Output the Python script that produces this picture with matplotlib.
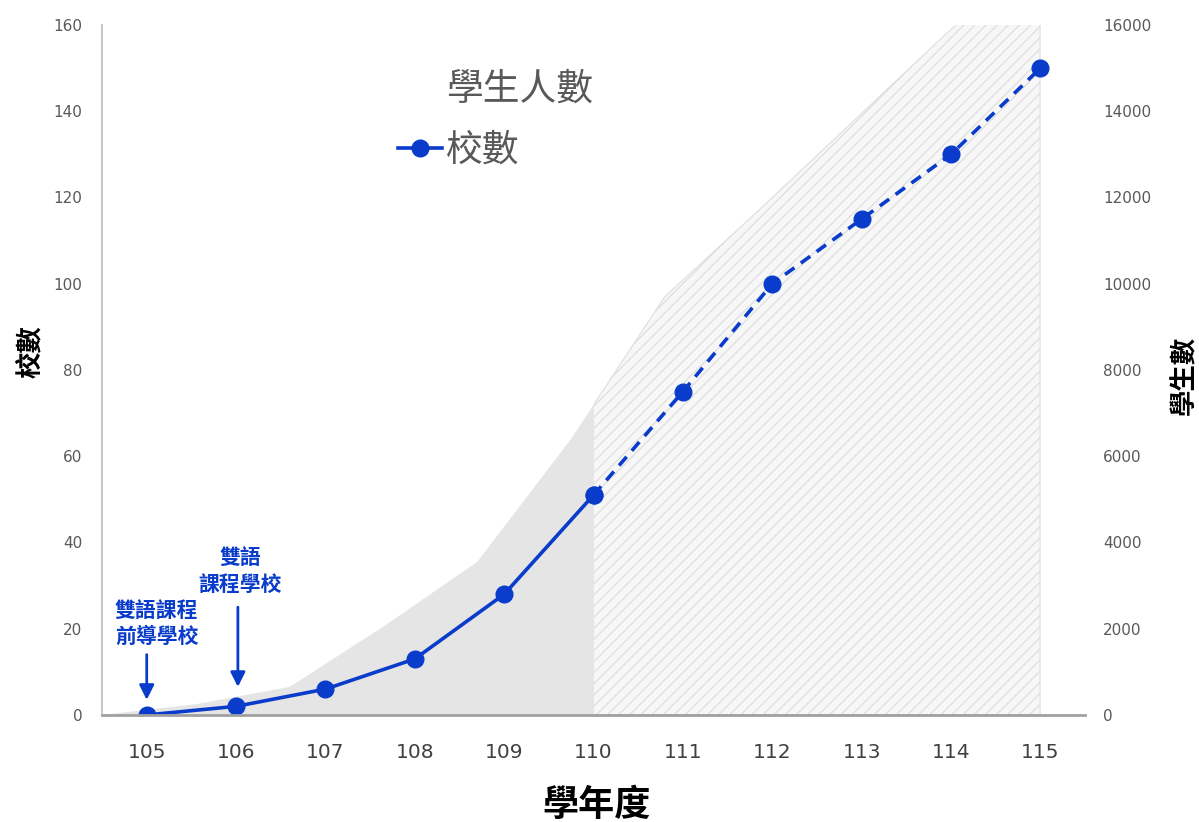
import numpy as np
import matplotlib.pyplot as plt
from matplotlib.patches import Rectangle, Patch
from matplotlib.lines import Line2D

plt.rcParams['font.family'] = ['Noto Sans CJK TC', 'DejaVu Sans']
plt.rcParams['hatch.linewidth'] = 0.9

# school year (ROC calendar)
years = [105, 106, 107, 108, 109, 110, 111, 112, 113, 114, 115]
# number of bilingual-curriculum schools (left axis)
schools = [0, 2, 6, 13, 28, 51, 75, 100, 115, 130, 150]
# number of students (right axis)
students = [0, 250, 650, 2050, 3550, 6400, 9700, 11700, 13750, 15800, 17700]
split_year = 110  # counts up to here, planned numbers after

left_ticks = list(range(0, 161, 20))
right_ticks = list(range(0, 16001, 2000))

BLUE = '#0a3ccc'
GRAY_TXT = '#595959'
NUM_FONT = 'DejaVu Sans'

fig = plt.figure(figsize=(11.99, 8.22), dpi=100)
pos = [0.0851, 0.1302, 0.8199, 0.8394]
ax_area = fig.add_axes(pos, zorder=0)
ax = fig.add_axes(pos, zorder=1)
ax.patch.set_visible(False)

# --- student area, own x scale so the last year sits on the right edge of the shading
ax_area.set_xlim(105, 115.48)
ax_area.set_ylim(0, 16000)
solid = ax_area.fill_between(years, students, 0, facecolor='#e5e5e5', edgecolor='none')
hatched = ax_area.fill_between(years, students, 0, facecolor='#f7f7f7',
                               edgecolor='#dedede', hatch='///', linewidth=0.8)
solid.set_clip_path(Rectangle((104.5, 0), split_year - 104.5, 160, transform=ax.transData))
hatched.set_clip_path(Rectangle((split_year, 0), 115.5 - split_year, 160, transform=ax.transData))

ax_area.set_xticks([])
ax_area.yaxis.tick_right()
ax_area.set_yticks(right_ticks)
ax_area.set_yticklabels([str(t) for t in right_ticks], fontsize=11, color=GRAY_TXT,
                        family=NUM_FONT)
ax_area.tick_params(axis='y', length=0, pad=13)
for s in ax_area.spines.values():
    s.set_visible(False)

# --- school count line: solid for actual, dashed for planned
i = years.index(split_year)
ax.plot(years[:i + 1], schools[:i + 1], color=BLUE, lw=2.6, marker='o', ms=12,
        solid_capstyle='round')
ax.plot(years[i:], schools[i:], color=BLUE, lw=2.6, ls=(0, (3.2, 2.2)), marker='o', ms=12)

ax.set_xlim(104.5, 115.5)
ax.set_ylim(0, 160)
ax.set_xticks(years)
ax.set_xticklabels([str(y) for y in years], fontsize=14.5, color='#404040', family=NUM_FONT)
ax.set_yticks(left_ticks)
ax.set_yticklabels([str(t) for t in left_ticks], fontsize=11, color=GRAY_TXT, family=NUM_FONT)
ax.tick_params(axis='x', length=0, pad=20)
ax.tick_params(axis='y', length=0, pad=14)
ax.spines['top'].set_visible(False)
ax.spines['right'].set_visible(False)
ax.spines['left'].set_color('#c8c8c8')
ax.spines['left'].set_linewidth(1.5)
ax.spines['bottom'].set_color('#a0a0a0')
ax.spines['bottom'].set_linewidth(2)

# axis titles
fig.text(30 / 1199, 1 - 352 / 822, '校數', rotation=90, fontsize=19, fontweight='bold',
         ha='center', va='center')
fig.text(1185 / 1199, 1 - 375 / 822, '學生數', rotation=90, fontsize=19, fontweight='bold',
         ha='center', va='center')
fig.text(597 / 1199, 1 - 805 / 822, '學年度', fontsize=26, fontweight='bold',
         ha='center', va='center')

# milestone notes
arrow = dict(arrowstyle='-|>', color=BLUE, lw=2, mutation_scale=22, shrinkA=0, shrinkB=0)
ax.annotate('', xy=(105, 3.5), xytext=(105, 14), arrowprops=arrow)
ax.annotate('', xy=(106.02, 6.5), xytext=(106.02, 25), arrowprops=arrow)
ax.text(105.11, 21.3, '雙語課程\n前導學校', color=BLUE, fontsize=15, fontweight='bold',
        ha='center', va='center', linespacing=1.3)
ax.text(106.05, 33.4, '雙語\n課程學校', color=BLUE, fontsize=15, fontweight='bold',
        ha='center', va='center', linespacing=1.3)

handles = [Patch(facecolor='none', edgecolor='none', label='學生人數'),
           Line2D([], [], color=BLUE, lw=2.6, marker='o', ms=12, label='校數')]
fig.legend(handles=handles, loc='upper left', bbox_to_anchor=(398 / 1199, 1 - 70 / 822),
           frameon=False, fontsize=26.5, labelcolor=GRAY_TXT, handlelength=1.2,
           handletextpad=0.1, labelspacing=0.6, borderpad=0, borderaxespad=0)

fig.savefig('out.png', dpi=100)
